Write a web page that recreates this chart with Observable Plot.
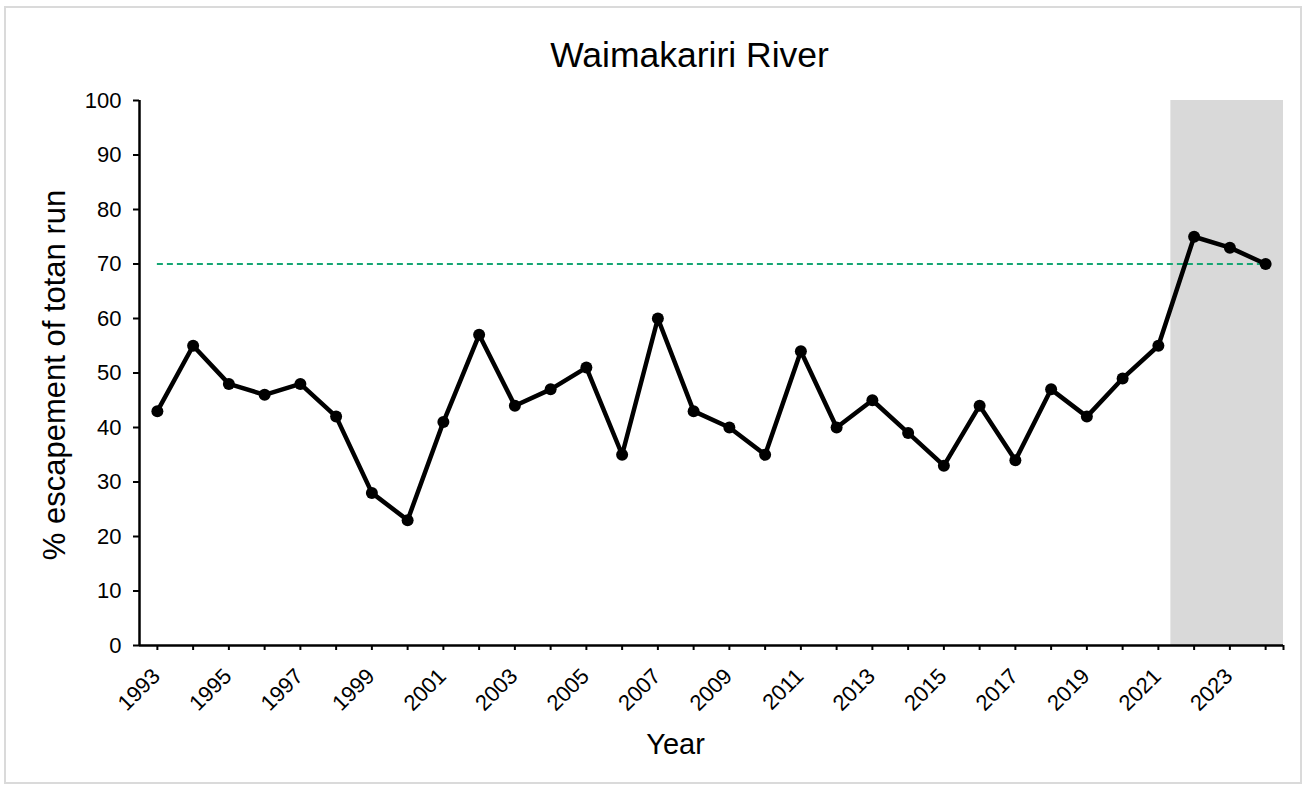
<!DOCTYPE html>
<html><head><meta charset="utf-8">
<script src="https://cdn.jsdelivr.net/npm/d3@7"></script>
<script src="https://cdn.jsdelivr.net/npm/@observablehq/plot@0.6"></script>
<style>
body{margin:0;background:#fff;}
#chart{position:absolute;left:0;top:0;}
#frame{position:absolute;left:4px;top:6px;width:1294px;height:774px;border:2px solid #dadada;pointer-events:none;}
</style>
</head><body><div id="chart"></div><div id="frame"></div>
<script>
const years = [1993,1994,1995,1996,1997,1998,1999,2000,2001,2002,2003,2004,2005,2006,2007,2008,2009,2010,2011,2012,2013,2014,2015,2016,2017,2018,2019,2020,2021,2022,2023,2024];
const escapement = [43,55,48,46,48,42,28,23,41,57,44,47,51,35,60,43,40,35,54,40,45,39,33,44,34,47,42,49,55,75,73,70];
const tickLabelYears = [1993,1995,1997,1999,2001,2003,2005,2007,2009,2011,2013,2015,2017,2019,2021,2023];
const yTicks = [0,10,20,30,40,50,60,70,80,90,100];
const targetLevel = [70];
const shadedPeriod = [2021.35, 2024.5];
const titleText = "Waimakariri River";
const xLabelText = "Year";
const yLabelText = "% escapement of totan run";

const data = years.map((year, i) => ({year, value: escapement[i]}));
const xMin = years[0] - 0.5, xMax = years[years.length - 1] + 0.5;
const font = "'Liberation Sans', Arial, sans-serif";

const plot = Plot.plot({
  width: 1307, height: 787,
  marginLeft: 139, marginRight: 24, marginTop: 100, marginBottom: 142,
  style: {fontFamily: font, background: "#fff", color: "#000", overflow: "visible"},
  x: {domain: [xMin, xMax], axis: null},
  y: {domain: [0, 100], axis: null},
  marks: [
    Plot.rect([{x1: shadedPeriod[0], x2: shadedPeriod[1], y1: 0, y2: 100}], {x1: "x1", x2: "x2", y1: "y1", y2: "y2", fill: "#d9d9d9"}),
    Plot.ruleY(targetLevel.map(v => ({y: v, x1: years[0], x2: years[years.length - 1]})), {y: "y", x1: "x1", x2: "x2", stroke: "#15a673", strokeWidth: 2, strokeDasharray: "6,4"}),
    Plot.axisY({ticks: yTicks, tickSize: 6, tickPadding: 12, fontSize: 22, label: null, tickFormat: d => String(d), strokeWidth: 2}),
    Plot.axisX({ticks: [...years, xMax], tickSize: 5, tickFormat: () => "", label: null, strokeWidth: 2}),
    Plot.ruleY([{y: 0, x1: xMin, x2: xMax}], {y: "y", x1: "x1", x2: "x2", stroke: "#000", strokeWidth: 2.5}),
    Plot.ruleX([{x: xMin, y1: 0, y2: 100}], {x: "x", y1: "y1", y2: "y2", stroke: "#000", strokeWidth: 2.5}),
    Plot.text(tickLabelYears, {x: d => d, frameAnchor: "bottom", text: d => String(d), rotate: -45, textAnchor: "end", lineAnchor: "middle", dy: 27, dx: -1, fontSize: 22, fill: "#000"}),
    Plot.line(data, {x: "year", y: "value", stroke: "#000", strokeWidth: 4.5, strokeLinejoin: "round"}),
    Plot.dot(data, {x: "year", y: "value", r: 6, fill: "#000"}),
    Plot.text([titleText], {text: d => d, frameAnchor: "top", textAnchor: "middle", dy: -45, dx: -22, fontSize: 35.5, lineAnchor: "middle", fill: "#000"}),
    Plot.text([xLabelText], {text: d => d, frameAnchor: "bottom", textAnchor: "middle", dy: 99, dx: -36, fontSize: 29, lineAnchor: "middle", fill: "#000"}),
    Plot.text([yLabelText], {text: d => d, frameAnchor: "left", textAnchor: "middle", dx: -84, dy: 2, rotate: -90, fontSize: 31, lineAnchor: "middle", fill: "#000"})
  ]
});
document.getElementById("chart").appendChild(plot);
</script>
</body></html>
